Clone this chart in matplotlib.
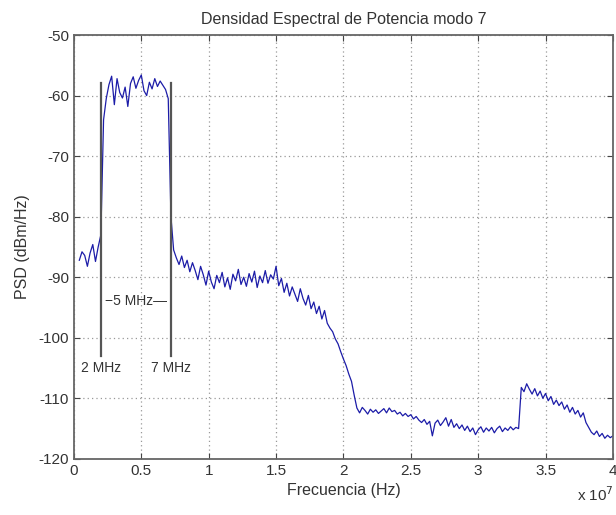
###############################################################################
# Densidad Espectral de Potencia modo 7 (recreated PSD plot, MATLAB style)
###############################################################################
import numpy as np
import matplotlib
matplotlib.use('Agg')
import matplotlib.pyplot as plt

plt.rcParams['font.family'] = ['Liberation Sans', 'DejaVu Sans']
plt.rcParams['axes.unicode_minus'] = False

# PSD samples (dBm/Hz), one every 0.02 x 1e7 Hz starting at 0.04 x 1e7 Hz
psd_low = [-87.2, -85.8, -86.4, -88.2, -86.0, -84.6, -87.4, -85.0,   # 0.04 - 0.18
           -83.0]                                                     # 0.20
psd_band = [-64.0, -60.5, -58.2, -56.8, -61.5, -57.2, -59.5, -60.4,  # 0.22 - 0.36
            -58.6, -61.8, -58.0, -56.9, -58.8, -57.5, -56.6, -59.2,  # 0.38 - 0.52
            -60.0, -57.8, -58.9, -57.2, -58.5, -57.6, -58.3, -59.0,  # 0.54 - 0.68
            -60.5]                                                    # 0.70
psd_edge = [-80.0, -85.5]                                             # 0.72 - 0.74
psd_mid = [-86.8, -87.9, -86.5, -88.4, -87.2, -89.1, -87.6, -88.9,   # 0.76 - 0.90
           -90.4, -88.2, -89.6, -91.3, -89.0, -90.8, -91.9, -89.7,   # 0.92 - 1.06
           -90.9, -89.2, -91.6, -90.1, -92.0, -89.5, -90.6, -88.7,   # 1.08 - 1.22
           -91.2, -90.0, -91.5, -89.4, -90.8, -89.0, -91.7, -89.8,   # 1.24 - 1.38
           -90.9, -88.9, -91.0, -89.6, -90.3, -88.2]                 # 1.40 - 1.50
psd_fall = [-91.4, -90.2, -92.5, -91.0, -93.1, -91.6, -92.8, -94.0,  # 1.52 - 1.66
            -91.9, -93.5, -94.6, -93.0, -95.2, -94.1, -96.0, -94.8,  # 1.68 - 1.82
            -96.9, -95.5, -97.6, -98.4, -99.0, -100.2, -101.0, -102.3,  # 1.84 - 1.98
            -103.5, -104.6, -106.0, -107.2, -109.5, -111.6, -112.4, -111.5,  # 2.00 - 2.14
            -112.0]                                                   # 2.16
psd_floor = [-112.6, -111.8, -112.3, -111.9, -112.5, -112.1, -111.7, -112.4,  # 2.18 - 2.32
             -111.6, -112.2, -112.0, -112.6, -112.3, -112.9, -112.5, -113.0,  # 2.34 - 2.48
             -112.7, -113.4, -113.0, -113.6, -114.0, -113.5, -114.3, -113.8,  # 2.50 - 2.64
             -116.2, -114.1, -113.6, -114.5, -113.9, -113.2, -114.6, -113.5,  # 2.66 - 2.80
             -114.8, -114.2, -115.0, -114.4, -115.3, -114.6, -115.5, -114.9,  # 2.82 - 2.96
             -116.0, -115.2, -114.7, -115.6, -114.9, -115.4, -114.8, -115.7,  # 2.98 - 3.12
             -115.0, -114.6, -115.5, -114.9, -115.3, -114.7, -115.2, -114.8,  # 3.14 - 3.28
             -115.0]                                                  # 3.30
psd_tail = [-108.2, -108.9, -107.6, -108.5, -109.3, -108.4, -109.6, -108.8,  # 3.32 - 3.46
            -110.0, -109.2, -110.4, -109.7, -111.0, -110.3, -111.2, -110.6,  # 3.48 - 3.62
            -111.8, -111.1, -112.3, -111.5, -112.6, -112.0, -113.1, -112.4,  # 3.64 - 3.78
            -114.0, -114.8, -115.6, -116.0, -115.4, -116.3, -115.8, -116.6,  # 3.80 - 3.94
            -116.1, -116.5, -116.2]                                   # 3.96 - 4.00

f_start = 0.04e7
f_step = 0.02e7

# Markers of the 5 MHz band edges
marker_freqs = [0.2e7, 0.72e7]
marker_labels = ['2 MHz', '7 MHz']
marker_top = -58.0
marker_bottom = -103.0
band_label = '\u22125 MHz\u2014'

xticks = [0, 0.5e7, 1e7, 1.5e7, 2e7, 2.5e7, 3e7, 3.5e7, 4e7]
xtick_labels = ['0', '0.5', '1', '1.5', '2', '2.5', '3', '3.5', '4']
yticks = [-120, -110, -100, -90, -80, -70, -60, -50]


if __name__ == "__main__":
    psd = np.array(psd_low + psd_band + psd_edge + psd_mid + psd_fall
                   + psd_floor + psd_tail)
    freq = f_start + f_step * np.arange(len(psd))

    fig = plt.figure(figsize=(6.16, 5.15), dpi=100)
    ax = fig.add_axes([0.120, 0.109, 0.875, 0.823])

    ax.plot(freq, psd, color='#1c1ca8', linewidth=0.9)

    # band edge markers
    for f, lab in zip(marker_freqs, marker_labels):
        ax.plot([f, f], [marker_top, marker_bottom], color='#555555',
                linewidth=1.6)
        ax.text(f, -105.0, lab, ha='center', va='center', fontsize=10,
                color='#333333')
    ax.text(0.46e7, -94.0, band_label, ha='center', va='center',
            fontsize=10, color='#333333')

    ax.set_xlim(0, 4e7)
    ax.set_ylim(-120, -50)
    ax.set_xticks(xticks)
    ax.set_xticklabels(xtick_labels)
    ax.set_yticks(yticks)

    ax.grid(True, color='#999999', linestyle=(0, (1, 2.5)), linewidth=0.9)
    ax.tick_params(direction='in', top=True, right=True, length=4,
                   labelsize=11, colors='#444444', labelcolor='#333333')
    for sp in ax.spines.values():
        sp.set_color('#666666')
        sp.set_linewidth(1.3)

    ax.set_title('Densidad Espectral de Potencia modo 7', fontsize=11.5,
                 color='#333333', pad=8)
    ax.set_xlabel('Frecuencia (Hz)', fontsize=11.5, color='#333333',
                  labelpad=4)
    ax.set_ylabel('PSD (dBm/Hz)', fontsize=11.5, color='#333333',
                  labelpad=6)
    fig.text(0.937, 0.022, r'x 10$^{7}$', fontsize=11, color='#333333',
             ha='left', va='bottom')

    fig.savefig('out.png', dpi=100)
